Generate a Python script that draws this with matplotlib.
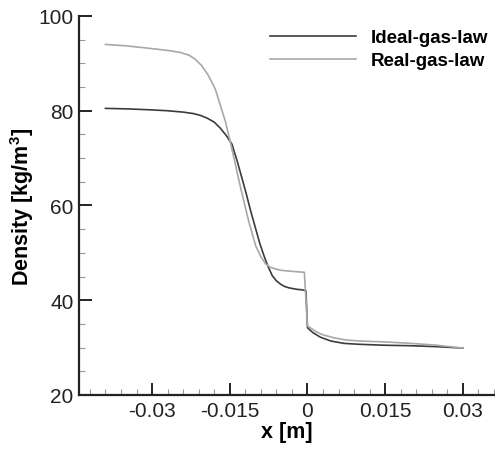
import matplotlib
matplotlib.use("Agg")
import matplotlib.pyplot as plt
from matplotlib.ticker import MultipleLocator, FixedLocator

plt.rcParams["font.family"] = ["Liberation Sans", "DejaVu Sans"]
plt.rcParams["mathtext.fontset"] = "custom"
plt.rcParams["mathtext.rm"] = "Liberation Sans"
plt.rcParams["mathtext.bf"] = "Liberation Sans:bold"

# values
ideal_x = [-0.039, -0.035, -0.0304, -0.027, -0.0239, -0.022, -0.0206, -0.0193, -0.0180,
           -0.0168, -0.0157, -0.0146, -0.0136, -0.0126, -0.0118, -0.0110, -0.0100,
           -0.0092, -0.0084, -0.0076, -0.0068, -0.0060, -0.0052, -0.0044, -0.0035,
           -0.0020, -0.0010, -0.0003, 0.0000, 0.0010, 0.0025, 0.0045, 0.0070,
           0.0100, 0.0150, 0.0200, 0.0250, 0.0300]
ideal_y = [80.5, 80.4, 80.2, 80.0, 79.7, 79.4, 79.0, 78.4, 77.6,
           76.3, 74.8, 73.0, 69.5, 65.6, 62.4, 59.0, 55.1,
           52.0, 49.4, 47.1, 45.2, 44.1, 43.4, 42.9, 42.6,
           42.3, 42.2, 42.0, 34.2, 33.2, 32.2, 31.4, 30.9,
           30.7, 30.5, 30.4, 30.2, 29.9]

real_x = [-0.039, -0.035, -0.0307, -0.0268, -0.0245, -0.0228, -0.0217, -0.0204, -0.0191,
          -0.0178, -0.0168, -0.0158, -0.0149, -0.0141, -0.0133, -0.0123, -0.0113,
          -0.0100, -0.0090, -0.0081, -0.0072, -0.0062, -0.0050, -0.0030, -0.0006,
          0.0000, 0.0016, 0.0030, 0.0050, 0.0075, 0.0100, 0.0150, 0.0200,
          0.0250, 0.0300]
real_y = [94.0, 93.7, 93.2, 92.7, 92.3, 91.7, 90.9, 89.5, 87.4,
          84.6, 81.1, 77.6, 73.4, 69.6, 65.6, 61.0, 56.5,
          51.5, 49.2, 47.7, 47.0, 46.6, 46.3, 46.1, 45.9,
          34.6, 33.4, 32.7, 32.1, 31.6, 31.4, 31.2, 30.9,
          30.5, 29.9]

x_ticks = [-0.03, -0.015, 0, 0.015, 0.03]
x_tick_labels = ["-0.03", "-0.015", "0", "0.015", "0.03"]
y_ticks = [20, 40, 60, 80, 100]

fig = plt.figure(figsize=(4.95, 4.52), dpi=100)
ax = fig.add_axes([0.1596, 0.1239, 0.8404, 0.8385])

ax.plot(ideal_x, ideal_y, color="#3c3c3c", lw=1.2, label="Ideal-gas-law")
ax.plot(real_x, real_y, color="#a8a8a8", lw=1.2, label="Real-gas-law")

ax.set_xlim(-0.0441, 0.0362)
ax.set_ylim(20, 100)
ax.xaxis.set_major_locator(FixedLocator(x_ticks))
ax.set_xticklabels(x_tick_labels)
ax.xaxis.set_minor_locator(MultipleLocator(0.003))
ax.yaxis.set_major_locator(FixedLocator(y_ticks))
ax.yaxis.set_minor_locator(MultipleLocator(5))

ax.tick_params(which="major", direction="in", length=9, width=1.4,
               labelsize=15, pad=4, colors="#222222")
ax.tick_params(which="minor", direction="in", length=4.5, width=0.8,
               colors="#999999")
for s in ("top", "right"):
    ax.spines[s].set_visible(False)
for s in ("left", "bottom"):
    ax.spines[s].set_linewidth(1.6)
    ax.spines[s].set_color("#222222")

ax.set_xlabel("x [m]", fontsize=15.5, fontweight="bold", labelpad=1)
ax.set_ylabel(r"Density [kg/m$^{\mathregular{3}}$]", fontsize=15.5,
              fontweight="bold", labelpad=2)

ax.legend(loc="upper right", bbox_to_anchor=(1.012, 0.995), frameon=False,
          prop={"weight": "bold", "size": 13.5}, handlelength=4.6,
          handletextpad=0.8, labelspacing=0.32, borderaxespad=0.2)

fig.savefig("out.png", dpi=100)
